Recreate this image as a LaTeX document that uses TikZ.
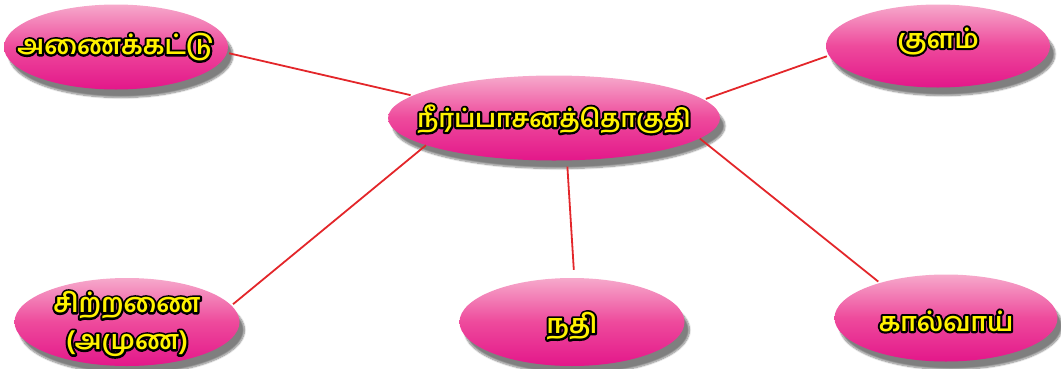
\documentclass[tikz,border=0pt]{standalone}
\usepackage{fontspec}
\newfontfamily\tam[Script=Tamil]{Hind Madurai}
\usetikzlibrary{shapes.geometric,shadows.blur}
\definecolor{pinkL}{HTML}{F6A9CB}
\definecolor{pinkM}{HTML}{EE4A9C}
\definecolor{pinkD}{HTML}{E3178A}
\definecolor{lineRed}{HTML}{E3262A}
\definecolor{txtY}{HTML}{FFF200}
\newcommand\otx[1]{\begingroup\setbox0=\hbox{#1}%
\leavevmode\rlap{\color{black}\special{pdf:literal direct q 2 Tr 4.2 w 1 j 1 J}\copy0\special{pdf:literal direct Q}}%
\box0\endgroup}
\tikzset{
  bub/.style={ellipse, inner sep=0pt, draw=none,
    top color=pinkL, bottom color=pinkD, middle color=pinkM,
    blur shadow={shadow xshift=5pt, shadow yshift=-8pt, shadow blur steps=10, shadow opacity=50}},
  lbl/.style={text=txtY, font=\tam\bfseries\fontsize{26.5}{37}\selectfont, align=center, inner sep=0pt},
  conn/.style={draw=lineRed, line width=1.8pt, shorten <=2pt, shorten >=2pt}
}
\begin{document}
\begin{tikzpicture}[x=1pt,y=-1pt]
\useasboundingbox (0,0) rectangle (1061,368);
\node[bub, minimum width=332pt, minimum height=85pt] (c) at (554,118) {};
\node[bub, minimum width=224pt, minimum height=85pt] (a) at (116,47) {};
\node[bub, minimum width=224pt, minimum height=83pt] (k) at (938,46) {};
\node[bub, minimum width=225pt, minimum height=88pt] (s) at (127,322) {};
\node[bub, minimum width=225pt, minimum height=88pt] (n) at (572,322) {};
\node[bub, minimum width=223pt, minimum height=87pt] (v) at (946,318) {};
\draw[conn] (c.171) -- (a.357);
\draw[conn] (c.7) -- (k.185);
\draw[conn, shorten <=0pt] (c.192) -- (s.9);
\draw[conn, shorten <=6pt, shorten >=8pt] (c.-73) -- (n.-273);
\draw[conn, shorten <=0pt] (c.-8) -- (v.152);
\node[lbl, font=\tam\bfseries\fontsize{25}{30}\selectfont] (ct) at ([yshift=-1pt]c) {\otx{நீர்ப்பாசனத்தொகுதி}};
\node[lbl] (at) at (a) {\otx{அணைக்கட்டு}};
\node[lbl] (kt) at ([yshift=5pt]k) {\otx{குளம்}};
\node[lbl] (st) at ([yshift=-2pt]s) {\otx{சிற்றணை}\\\otx{(அமுண)}};
\node[lbl] (nt) at ([yshift=-4pt]n) {\otx{நதி}};
\node[lbl] (vt) at ([yshift=-3pt]v) {\otx{கால்வாய்}};
\end{tikzpicture}
\end{document}
